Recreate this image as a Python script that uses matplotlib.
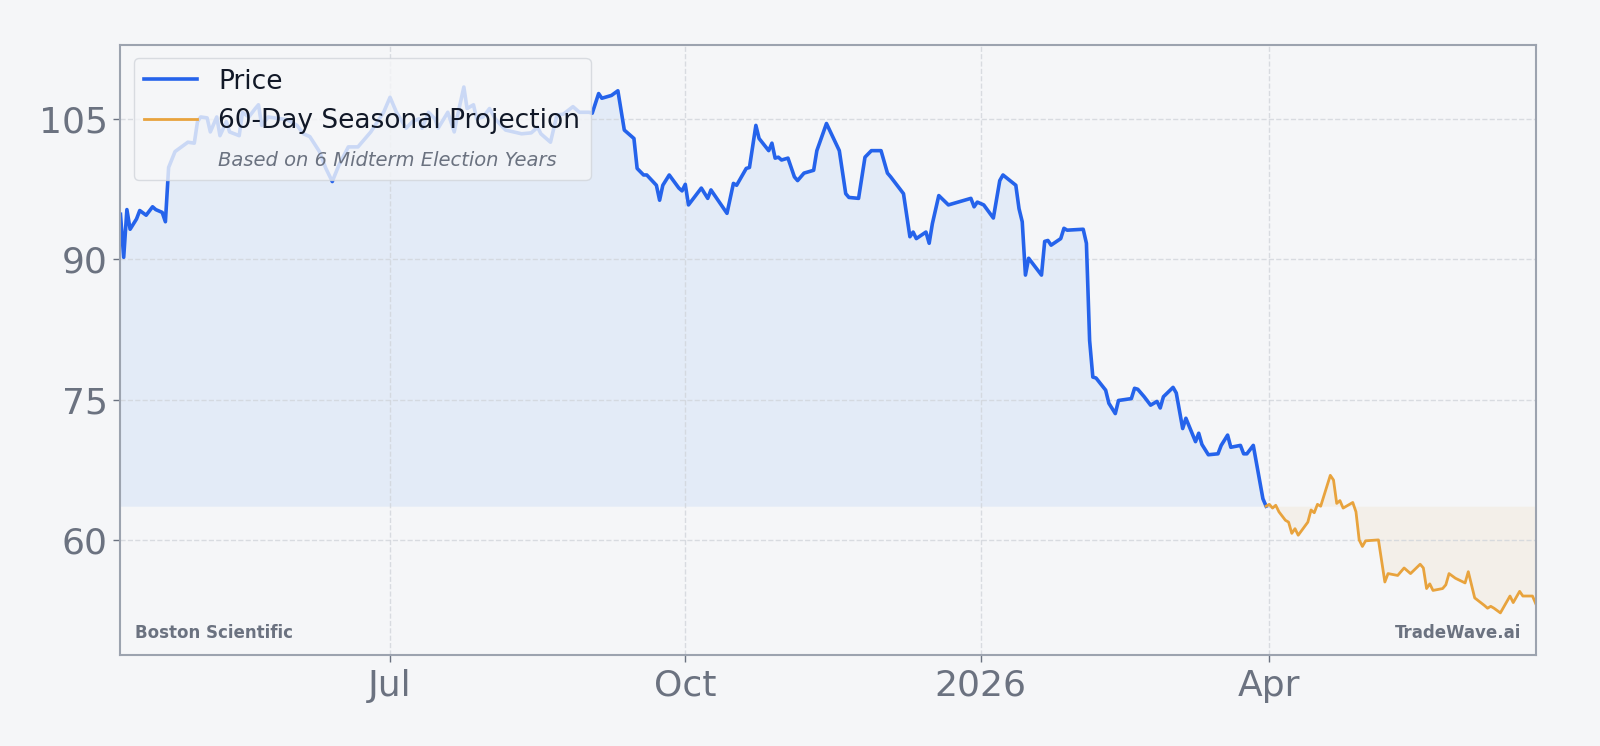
import matplotlib
matplotlib.use("Agg")
import matplotlib.pyplot as plt
import matplotlib.dates as mdates
from matplotlib.lines import Line2D
from matplotlib.ticker import MultipleLocator, FuncFormatter
import pandas as pd

# price history
price_dates = [
    "2025-04-08", "2025-04-09", "2025-04-10", "2025-04-11", "2025-04-13", "2025-04-14",
    "2025-04-16", "2025-04-18", "2025-04-19", "2025-04-21", "2025-04-22", "2025-04-23",
    "2025-04-25", "2025-04-27", "2025-04-29", "2025-05-01", "2025-05-02", "2025-05-03",
    "2025-05-05", "2025-05-06", "2025-05-08", "2025-05-09", "2025-05-11", "2025-05-12",
    "2025-05-15", "2025-05-16", "2025-05-18", "2025-05-20", "2025-05-21", "2025-05-22",
    "2025-05-24", "2025-05-30", "2025-06-02", "2025-06-04", "2025-06-06", "2025-06-09",
    "2025-06-11", "2025-06-13", "2025-06-15", "2025-06-18", "2025-06-21", "2025-06-25",
    "2025-06-29", "2025-07-01", "2025-07-03", "2025-07-06", "2025-07-08", "2025-07-10",
    "2025-07-11", "2025-07-13", "2025-07-15", "2025-07-16", "2025-07-19", "2025-07-21",
    "2025-07-22", "2025-07-24", "2025-07-25", "2025-07-27", "2025-07-28", "2025-07-30",
    "2025-08-01", "2025-08-03", "2025-08-06", "2025-08-11", "2025-08-14", "2025-08-16",
    "2025-08-17", "2025-08-20", "2025-08-22", "2025-08-24", "2025-08-27", "2025-08-29",
    "2025-09-01", "2025-09-02", "2025-09-04", "2025-09-05", "2025-09-08", "2025-09-10",
    "2025-09-12", "2025-09-15", "2025-09-16", "2025-09-18", "2025-09-19", "2025-09-22",
    "2025-09-23", "2025-09-24", "2025-09-26", "2025-09-29", "2025-09-30", "2025-10-01",
    "2025-10-02", "2025-10-06", "2025-10-08", "2025-10-09", "2025-10-14", "2025-10-16",
    "2025-10-17", "2025-10-20", "2025-10-21", "2025-10-23", "2025-10-24", "2025-10-27",
    "2025-10-28", "2025-10-29", "2025-10-30", "2025-10-31", "2025-11-02", "2025-11-04",
    "2025-11-05", "2025-11-07", "2025-11-10", "2025-11-11", "2025-11-14", "2025-11-18",
    "2025-11-20", "2025-11-21", "2025-11-24", "2025-11-26", "2025-11-28", "2025-12-01",
    "2025-12-03", "2025-12-04", "2025-12-08", "2025-12-10", "2025-12-11", "2025-12-12",
    "2025-12-15", "2025-12-16", "2025-12-17", "2025-12-19", "2025-12-22", "2025-12-29",
    "2025-12-30", "2025-12-31", "2026-01-02", "2026-01-05", "2026-01-07", "2026-01-08",
    "2026-01-12", "2026-01-13", "2026-01-14", "2026-01-15", "2026-01-16", "2026-01-20",
    "2026-01-21", "2026-01-22", "2026-01-23", "2026-01-26", "2026-01-27", "2026-01-28",
    "2026-02-02", "2026-02-03", "2026-02-04", "2026-02-05", "2026-02-06", "2026-02-09",
    "2026-02-10", "2026-02-12", "2026-02-13", "2026-02-17", "2026-02-18", "2026-02-19",
    "2026-02-21", "2026-02-23", "2026-02-25", "2026-02-26", "2026-02-27", "2026-03-02",
    "2026-03-03", "2026-03-05", "2026-03-06", "2026-03-09", "2026-03-10", "2026-03-11",
    "2026-03-13", "2026-03-16", "2026-03-17", "2026-03-19", "2026-03-20", "2026-03-23",
    "2026-03-24", "2026-03-25", "2026-03-27", "2026-03-30", "2026-03-31",
]
price_values = [
    94.8, 90.2, 95.3, 93.2, 94.3, 95.2,
    94.7, 95.6, 95.3, 95.0, 94.0, 99.8,
    101.5, 102.0, 102.5, 102.4, 104.7, 105.2,
    105.1, 103.6, 105.2, 103.2, 104.7, 103.6,
    103.2, 105.7, 105.2, 106.1, 106.5, 104.3,
    105.2, 104.9, 104.3, 103.4, 103.1, 101.5,
    99.7, 98.3, 100.0, 102.0, 102.0, 103.6,
    105.7, 107.3, 105.7, 104.0, 104.7, 105.0,
    104.0, 105.7, 105.0, 104.0, 105.7, 103.6,
    105.3, 108.4, 106.1, 106.5, 105.0, 105.2,
    106.1, 104.9, 103.8, 103.4, 103.5, 104.1,
    103.4, 102.5, 105.4, 105.5, 106.3, 105.7,
    105.7, 105.6, 107.7, 107.2, 107.5, 108.0,
    103.8, 102.9, 99.7, 99.0, 99.0, 97.9,
    96.3, 97.9, 99.0, 97.6, 97.3, 98.0,
    95.8, 97.6, 96.5, 97.4, 94.9, 98.1,
    97.9, 99.7, 99.8, 104.3, 102.9, 101.6,
    102.4, 100.8, 100.9, 100.6, 100.8, 98.8,
    98.4, 99.2, 99.5, 101.6, 104.5, 101.6,
    97.0, 96.6, 96.5, 100.9, 101.6, 101.6,
    99.2, 98.8, 97.0, 92.4, 92.9, 92.2,
    92.9, 91.7, 93.8, 96.8, 95.8, 96.5,
    95.6, 96.1, 95.8, 94.4, 98.4, 99.0,
    97.9, 95.4, 94.0, 88.3, 90.1, 88.3,
    91.9, 92.0, 91.5, 92.2, 93.3, 93.1,
    93.2, 91.7, 81.3, 77.4, 77.3, 76.0,
    74.6, 73.5, 74.9, 75.1, 76.2, 76.1,
    75.3, 74.4, 74.8, 74.1, 75.3, 76.3,
    75.7, 71.9, 73.0, 70.5, 71.4, 70.2,
    69.1, 69.2, 70.1, 71.2, 69.9, 70.1,
    69.2, 69.2, 70.1, 64.4, 63.6,
]

# 60-day seasonal projection
proj_dates = [
    "2026-03-31", "2026-04-01", "2026-04-02", "2026-04-03", "2026-04-04", "2026-04-06",
    "2026-04-07", "2026-04-08", "2026-04-09", "2026-04-10", "2026-04-13", "2026-04-14",
    "2026-04-15", "2026-04-16", "2026-04-17", "2026-04-20", "2026-04-21", "2026-04-22",
    "2026-04-23", "2026-04-24", "2026-04-27", "2026-04-28", "2026-04-29", "2026-04-30",
    "2026-05-01", "2026-05-05", "2026-05-07", "2026-05-08", "2026-05-11", "2026-05-13",
    "2026-05-15", "2026-05-18", "2026-05-19", "2026-05-20", "2026-05-21", "2026-05-22",
    "2026-05-25", "2026-05-26", "2026-05-27", "2026-05-29", "2026-06-01", "2026-06-02",
    "2026-06-04", "2026-06-07", "2026-06-08", "2026-06-09", "2026-06-10", "2026-06-12",
    "2026-06-15", "2026-06-16", "2026-06-18", "2026-06-19", "2026-06-22", "2026-06-23",
]
proj_values = [
    63.6, 63.8, 63.4, 63.7, 63.0, 62.1,
    61.9, 60.7, 61.2, 60.5, 61.9, 63.2,
    62.9, 63.8, 63.6, 66.9, 66.4, 63.9,
    64.2, 63.4, 64.0, 63.0, 60.0, 59.3,
    59.9, 60.0, 55.5, 56.4, 56.2, 57.0,
    56.4, 57.4, 57.0, 54.8, 55.3, 54.6,
    54.8, 55.2, 56.4, 55.9, 55.4, 56.6,
    53.8, 53.0, 52.7, 52.9, 52.7, 52.2,
    54.0, 53.3, 54.5, 54.0, 54.0, 53.2,
]

bg = "#f5f6f8"
blue = "#2563eb"
orange = "#e8a33d"
gray = "#6b7280"

pd_price = pd.to_datetime(price_dates)
pd_proj = pd.to_datetime(proj_dates)
base = price_values[-1]

fig = plt.figure(figsize=(16, 7.46), dpi=100, facecolor=bg)
ax = fig.add_axes([0.0753, 0.122, 0.8845, 0.8178])
ax.set_facecolor(bg)

ax.fill_between(pd_price, price_values, base, color="#4a8ef0", alpha=0.1, linewidth=0)
ax.fill_between(pd_proj, proj_values, base, color=orange, alpha=0.08, linewidth=0)
ax.plot(pd_price, price_values, color=blue, linewidth=2.6, label="Price")
ax.plot(pd_proj, proj_values, color=orange, linewidth=2.0, label="60-Day Seasonal Projection")

ax.set_xlim(pd_price[0], pd_proj[-1])
ax.set_ylim(47.7, 112.9)

ax.yaxis.set_major_locator(MultipleLocator(15))
ax.xaxis.set_major_locator(mdates.MonthLocator(bymonth=[1, 4, 7, 10]))
ax.xaxis.set_major_formatter(FuncFormatter(
    lambda x, pos: mdates.num2date(x).strftime("%Y") if mdates.num2date(x).month == 1
    else mdates.num2date(x).strftime("%b")))

ax.tick_params(axis="both", labelsize=26, colors=gray, length=5, width=1)
ax.tick_params(axis="y", pad=4)
ax.tick_params(axis="x", pad=5)
ax.grid(True, color="#d1d5db", linestyle="--", linewidth=1, alpha=0.8)
for s in ax.spines.values():
    s.set_color("#9ca3af")
    s.set_linewidth(1.5)

extra = Line2D([], [], color="none", label="Based on 6 Midterm Election Years")
handles, labels = ax.get_legend_handles_labels()
leg = ax.legend(handles + [extra], labels + [extra.get_label()], loc="upper left",
                fontsize=19, frameon=True, facecolor=bg, edgecolor="#d1d5db",
                framealpha=0.8)
for t in leg.get_texts()[:2]:
    t.set_color("#111827")
note = leg.get_texts()[2]
note.set_fontstyle("italic")
note.set_fontsize(14)
note.set_color(gray)

ax.text(0.01, 0.022, "Boston Scientific", transform=ax.transAxes, fontsize=12,
        fontweight="bold", color=gray, ha="left", va="bottom")
ax.text(0.99, 0.022, "TradeWave.ai", transform=ax.transAxes, fontsize=12,
        fontweight="bold", color=gray, ha="right", va="bottom")

fig.savefig("out.png", dpi=100, facecolor=bg)
